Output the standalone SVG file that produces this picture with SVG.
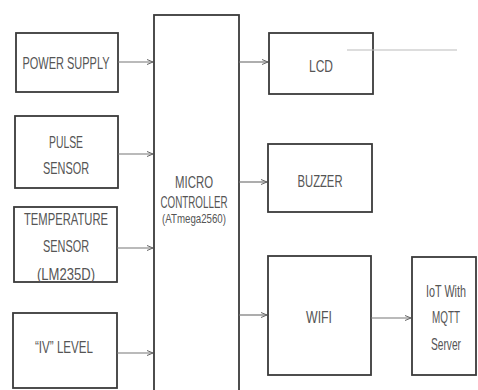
<svg xmlns="http://www.w3.org/2000/svg" width="478" height="390" viewBox="0 0 478 390">
<defs>
<style>
.box{fill:#fff;stroke:#3a3a3a;stroke-width:1.8}
.t{font-family:"Liberation Sans",Arial,sans-serif;font-size:16.5px;fill:#555;text-anchor:middle}
.s{font-size:13px}
.c{stroke:#777;stroke-width:1.2;fill:none}
</style>
<marker id="ah" markerWidth="7" markerHeight="6" refX="6" refY="3" orient="auto" markerUnits="userSpaceOnUse">
<path d="M0,0.5 L6,3 L0,5.5" fill="none" stroke="#666" stroke-width="1"/>
</marker>
</defs>
<rect width="478" height="390" fill="#fff"/>
<g id="power"><rect class="box" x="16" y="33" width="102" height="59"/><text class="t" x="66" y="69" textLength="87" lengthAdjust="spacingAndGlyphs">POWER SUPPLY</text></g>
<g id="pulse"><rect class="box" x="15" y="116" width="103" height="72"/><text class="t" x="66" y="148" textLength="34" lengthAdjust="spacingAndGlyphs">PULSE</text><text class="t" x="66" y="174" textLength="46" lengthAdjust="spacingAndGlyphs">SENSOR</text></g>
<g id="temp"><rect class="box" x="14" y="207" width="103" height="75"/><text class="t" x="66" y="225" textLength="84" lengthAdjust="spacingAndGlyphs">TEMPERATURE</text><text class="t" x="66" y="252" textLength="46" lengthAdjust="spacingAndGlyphs">SENSOR</text><text class="t" x="66" y="280" textLength="58" lengthAdjust="spacingAndGlyphs">(LM235D)</text></g>
<g id="level"><rect class="box" x="13" y="313" width="104" height="75"/><text class="t" x="64" y="353" textLength="58" lengthAdjust="spacingAndGlyphs">“IV” LEVEL</text></g>
<g id="mcu"><rect class="box" x="154" y="15" width="85" height="380"/><text class="t" x="194" y="188" textLength="38" lengthAdjust="spacingAndGlyphs">MICRO</text><text class="t" x="194" y="208" textLength="67" lengthAdjust="spacingAndGlyphs">CONTROLLER</text><text class="t s" x="194" y="223" textLength="64" lengthAdjust="spacingAndGlyphs">(ATmega2560)</text></g>
<g id="lcd"><rect class="box" x="269" y="33" width="104" height="61"/><text class="t" x="321" y="72" textLength="24" lengthAdjust="spacingAndGlyphs">LCD</text></g>
<g id="buzzer"><rect class="box" x="268" y="144" width="104" height="68"/><text class="t" x="320" y="187" textLength="45" lengthAdjust="spacingAndGlyphs">BUZZER</text></g>
<g id="wifi"><rect class="box" x="268" y="256" width="103" height="119"/><text class="t" x="319" y="323" textLength="26" lengthAdjust="spacingAndGlyphs">WIFI</text></g>
<g id="iot"><rect class="box" x="412" y="257" width="64" height="118"/><text class="t" x="446" y="297" textLength="40" lengthAdjust="spacingAndGlyphs">IoT With</text><text class="t" x="446" y="323" textLength="28" lengthAdjust="spacingAndGlyphs">MQTT</text><text class="t" x="446" y="350" textLength="30" lengthAdjust="spacingAndGlyphs">Server</text></g>
<g id="connectors">
<line class="c" x1="118" y1="62" x2="153" y2="62" marker-end="url(#ah)"/>
<line class="c" x1="118" y1="154" x2="153" y2="154" marker-end="url(#ah)"/>
<line class="c" x1="117" y1="248" x2="153" y2="248" marker-end="url(#ah)"/>
<line class="c" x1="117" y1="353" x2="153" y2="353" marker-end="url(#ah)"/>
<line class="c" x1="239" y1="62" x2="268" y2="62" marker-end="url(#ah)"/>
<line class="c" x1="239" y1="182" x2="267" y2="182" marker-end="url(#ah)"/>
<line class="c" x1="239" y1="315" x2="267" y2="315" marker-end="url(#ah)"/>
<line class="c" x1="371" y1="318" x2="411" y2="318" marker-end="url(#ah)"/>
<line x1="347" y1="50" x2="457" y2="50" stroke="#bbb" stroke-width="1"/>
</g>
</svg>
